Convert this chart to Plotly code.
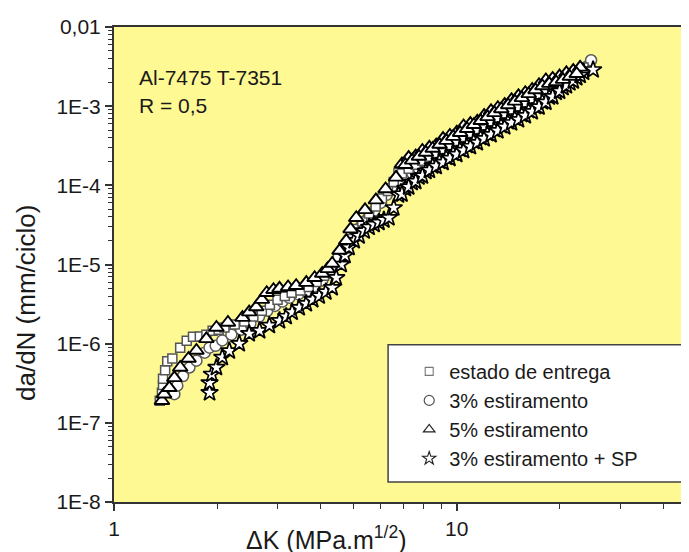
import plotly.graph_objects as go

# ---------------- data ----------------
# estado de entrega (squares)
sq_K = [1.36, 1.38, 1.39, 1.39, 1.41, 1.43, 1.48, 1.56, 1.63, 1.70, 1.78, 1.86, 1.94, 2.02, 2.10,
        2.25, 2.40, 2.55, 2.70, 2.85, 3.00, 3.15, 3.30, 3.50, 3.70, 3.90, 4.10, 4.30, 4.50, 4.70,
        4.90, 5.10, 5.30, 5.55, 5.80, 6.05, 6.30, 6.55,
        6.76, 7.08, 7.41, 7.76, 8.13, 8.51, 8.91, 9.33, 9.77, 10.23, 10.72, 11.22, 11.75, 12.30,
        12.88, 13.49, 14.13, 14.79, 15.49, 16.22, 16.98, 17.78, 18.62, 19.50, 20.42, 21.38, 22.39, 23.44,
        6.92, 7.24, 7.59, 7.94, 8.32, 8.71, 9.12, 9.55, 10.0, 10.47, 10.96, 11.48, 12.02, 12.59,
        13.18, 13.80, 14.45, 15.14, 15.85, 16.60, 17.38, 18.20, 19.05, 19.95, 20.89, 21.88, 22.91]
sq_da = [1.9e-7, 2.4e-7, 3.0e-7, 3.6e-7, 4.6e-7, 6.0e-7, 6.5e-7, 8.9e-7, 1.09e-6, 1.22e-6, 1.23e-6,
         1.3e-6, 1.46e-6, 1.5e-6, 1.6e-6, 1.75e-6, 1.9e-6, 2.2e-6, 2.6e-6, 3.1e-6, 3.6e-6, 4.0e-6,
         4.4e-6, 4.7e-6, 5.2e-6, 6.0e-6, 7.2e-6, 9.0e-6, 1.2e-5, 1.6e-5, 2.1e-5, 2.8e-5, 3.5e-5,
         4.4e-5, 5.4e-5, 6.8e-5, 8.5e-5, 1.1e-4,
         1.445e-4, 1.698e-4, 1.862e-4, 2.018e-4, 2.399e-4, 2.754e-4, 2.951e-4, 3.273e-4, 3.715e-4,
         4.365e-4, 4.677e-4, 5.188e-4, 5.888e-4, 6.761e-4, 7.413e-4, 8.318e-4, 9.550e-4, 1.023e-3,
         1.175e-3, 1.288e-3, 1.479e-3, 1.622e-3, 1.778e-3, 1.995e-3, 2.138e-3, 2.344e-3, 2.692e-3,
         3.090e-3,
         1.413e-4, 1.622e-4, 1.820e-4, 2.042e-4, 2.291e-4, 2.570e-4, 2.884e-4, 3.236e-4, 3.631e-4,
         4.074e-4, 4.571e-4, 5.129e-4, 5.754e-4, 6.457e-4, 7.244e-4, 8.128e-4, 9.120e-4, 1.000e-3,
         1.122e-3, 1.259e-3, 1.413e-3, 1.585e-3, 1.778e-3, 1.950e-3, 2.138e-3, 2.399e-3, 2.754e-3]

# 3% estiramento (circles)
ci_K = [1.50, 1.53, 1.59, 1.66, 1.74, 1.84, 1.90, 1.98, 2.07, 2.20, 2.35, 2.50, 2.65, 2.80, 2.95,
        3.10, 3.25, 3.45, 3.65, 3.85, 4.05, 4.25, 4.45, 4.65, 4.85, 5.05, 5.25, 5.50, 5.75, 6.00,
        6.25, 6.45,
        6.61, 6.92, 7.24, 7.59, 7.94, 8.32, 8.71, 9.12, 9.55, 10.0, 10.47, 10.96, 11.48, 12.02,
        12.59, 13.18, 13.80, 14.45, 15.14, 15.85, 16.60, 17.38, 18.20, 19.05, 19.95, 20.89, 21.88,
        22.91, 23.99, 24.66,
        6.76, 7.08, 7.41, 7.76, 8.13, 8.51, 8.91, 9.33, 9.77, 10.23, 10.72, 11.22, 11.75, 12.30,
        12.88, 13.49, 14.13, 14.79, 15.49, 16.22, 16.98, 17.78, 18.62, 19.50, 20.42, 21.38, 22.39]
ci_da = [2.3e-7, 2.95e-7, 3.9e-7, 5.0e-7, 6.1e-7, 7.7e-7, 8.9e-7, 9.4e-7, 1.1e-6, 1.3e-6, 1.5e-6,
         1.8e-6, 2.2e-6, 2.6e-6, 3.0e-6, 3.4e-6, 3.8e-6, 4.2e-6, 4.6e-6, 5.3e-6, 6.3e-6, 7.8e-6,
         1.0e-5, 1.35e-5, 1.8e-5, 2.4e-5, 3.0e-5, 3.8e-5, 4.8e-5, 6.0e-5, 7.6e-5, 9.3e-5,
         1.122e-4, 1.318e-4, 1.479e-4, 1.622e-4, 1.862e-4, 2.138e-4, 2.344e-4, 2.630e-4, 2.884e-4,
         3.311e-4, 3.715e-4, 4.266e-4, 4.677e-4, 5.248e-4, 5.888e-4, 6.457e-4, 7.413e-4, 8.318e-4,
         9.120e-4, 1.023e-3, 1.148e-3, 1.288e-3, 1.445e-3, 1.622e-3, 1.820e-3, 2.042e-3, 2.291e-3,
         2.630e-3, 3.162e-3, 3.8e-3,
         1.096e-4, 1.259e-4, 1.429e-4, 1.603e-4, 1.799e-4, 2.018e-4, 2.265e-4, 2.541e-4, 2.851e-4,
         3.199e-4, 3.589e-4, 4.027e-4, 4.519e-4, 5.070e-4, 5.689e-4, 6.383e-4, 7.161e-4, 7.943e-4,
         8.810e-4, 9.886e-4, 1.109e-3, 1.245e-3, 1.429e-3, 1.641e-3, 1.884e-3, 2.163e-3, 2.455e-3]

# 5% estiramento (triangles)
tr_K = [1.38, 1.40, 1.45, 1.50, 1.56, 1.65, 1.74, 1.86, 1.99, 2.15, 2.37, 2.48, 2.60, 2.70, 2.79,
        2.92, 3.04, 3.22, 3.40, 3.64, 3.85, 4.05, 4.20, 4.33, 4.55, 4.76, 4.90, 5.09, 5.40, 5.81,
        6.20, 6.65,
        6.92, 7.24, 7.59, 7.94, 8.32, 8.71, 9.12, 9.55, 10.0, 10.47, 10.96, 11.48, 12.02, 12.59,
        13.18, 13.80, 14.45, 15.14, 15.85, 16.60, 17.38, 18.20, 19.05, 19.95, 20.89, 21.88, 22.91,
        7.08, 7.41, 7.76, 8.13, 8.51, 8.91, 9.33, 9.77, 10.23, 10.72, 11.22, 11.75, 12.30, 12.88,
        13.49, 14.13, 14.79, 15.49, 16.22, 16.98, 17.78, 18.62, 19.50, 20.42, 21.38, 22.39]
tr_da = [1.9e-7, 2.3e-7, 2.77e-7, 3.7e-7, 5.0e-7, 6.5e-7, 8.2e-7, 1.15e-6, 1.6e-6, 1.85e-6, 2.13e-6,
         2.5e-6, 2.9e-6, 3.6e-6, 4.4e-6, 4.8e-6, 5.0e-6, 5.2e-6, 5.4e-6, 5.9e-6, 6.8e-6, 7.7e-6,
         8.8e-6, 1.03e-5, 1.5e-5, 2.0e-5, 2.8e-5, 3.9e-5, 4.9e-5, 6.5e-5, 9.0e-5, 1.26e-4,
         1.862e-4, 2.239e-4, 2.344e-4, 2.754e-4, 3.020e-4, 3.236e-4, 3.890e-4, 4.266e-4, 4.677e-4,
         5.623e-4, 6.026e-4, 6.457e-4, 7.586e-4, 8.710e-4, 9.550e-4, 1.047e-3, 1.202e-3, 1.349e-3,
         1.479e-3, 1.622e-3, 1.862e-3, 2.138e-3, 2.239e-3, 2.399e-3, 2.630e-3, 2.818e-3, 3.090e-3,
         1.820e-4, 2.065e-4, 2.317e-4, 2.600e-4, 2.917e-4, 3.273e-4, 3.673e-4, 4.121e-4, 4.624e-4,
         5.188e-4, 5.821e-4, 6.531e-4, 7.328e-4, 8.222e-4, 9.226e-4, 1.035e-3, 1.148e-3, 1.274e-3,
         1.429e-3, 1.603e-3, 1.799e-3, 1.928e-3, 2.018e-3, 2.163e-3, 2.371e-3, 2.570e-3]

# 3% estiramento + SP (stars)
st_K = [1.90, 1.90, 1.93, 1.99, 2.07, 2.17, 2.32, 2.48, 2.66, 2.84, 3.04, 3.18, 3.31, 3.47, 3.64,
        3.80, 3.97, 4.15, 4.33, 4.45, 4.60, 4.72, 4.85, 5.02, 5.19, 5.37, 5.55, 5.74, 5.93, 6.13,
        6.34, 6.55,
        6.76, 7.08, 7.41, 7.76, 8.13, 8.51, 8.91, 9.33, 9.77, 10.23, 10.72, 11.22, 11.75, 12.30,
        12.88, 13.49, 14.13, 14.79, 15.49, 16.22, 16.98, 17.78, 18.62, 19.50, 20.42, 21.38, 22.39,
        23.44, 25.0,
        6.92, 7.24, 7.59, 7.94, 8.32, 8.71, 9.12, 9.55, 10.0, 10.47, 10.96, 11.48, 12.02, 12.59,
        13.18, 13.80, 14.45, 15.14, 15.85, 16.60, 17.38, 18.20, 19.05, 19.95, 20.89, 21.88, 22.91]
st_da = [2.4e-7, 3.2e-7, 4.1e-7, 5.0e-7, 6.7e-7, 8.1e-7, 1.0e-6, 1.34e-6, 1.46e-6, 1.7e-6, 1.95e-6,
         2.2e-6, 2.5e-6, 2.85e-6, 3.2e-6, 3.6e-6, 4.0e-6, 4.5e-6, 5.1e-6, 6.8e-6, 1.0e-5, 1.3e-5,
         1.64e-5, 2.0e-5, 2.3e-5, 2.65e-5, 2.95e-5, 3.2e-5, 3.4e-5, 3.65e-5, 3.9e-5, 5.2e-5,
         7.586e-5, 9.120e-5, 1.084e-4, 1.274e-4, 1.496e-4, 1.758e-4, 2.018e-4, 2.265e-4, 2.541e-4,
         2.851e-4, 3.199e-4, 3.589e-4, 4.027e-4, 4.519e-4, 5.070e-4, 5.689e-4, 6.383e-4, 7.079e-4,
         7.852e-4, 8.810e-4, 9.886e-4, 1.135e-3, 1.303e-3, 1.496e-3, 1.718e-3, 1.972e-3, 2.291e-3,
         2.692e-3, 2.88e-3,
         7.762e-5, 9.550e-5, 1.122e-4, 1.318e-4, 1.549e-4, 1.738e-4, 1.950e-4, 2.188e-4, 2.455e-4,
         2.754e-4, 3.090e-4, 3.467e-4, 3.890e-4, 4.365e-4, 4.898e-4, 5.495e-4, 6.166e-4, 6.761e-4,
         7.586e-4, 8.511e-4, 9.772e-4, 1.122e-3, 1.318e-3, 1.549e-3, 1.820e-3, 2.089e-3, 2.455e-3]

series_names = ["estado de entrega", "3% estiramento", "5% estiramento", "3% estiramento + SP"]

y_tickvals = [1e-8, 1e-7, 1e-6, 1e-5, 1e-4, 1e-3, 1e-2]
y_ticktext = ["1E-8", "1E-7", "1E-6", "1E-5", "1E-4", "1E-3", "0,01"]
x_tickvals = [1, 10]
x_ticktext = ["1", "10"]
x_minor = [2, 3, 4, 5, 6, 7, 8, 9, 20, 30, 40]
y_minor = [m * 10.0 ** e for e in range(-8, -2) for m in range(2, 10)]

FONT = "Liberation Sans, Arial, sans-serif"
INK = "#1a1a1a"

# (plot marker, legend marker) styles per series
styles = {
    "estado de entrega": (dict(symbol="square", size=9, color="white", line=dict(color="#555555", width=1.5)),
                          dict(symbol="square", size=8, color="white", line=dict(color="#777777", width=1.1))),
    "3% estiramento": (dict(symbol="circle", size=11, color="white", line=dict(color="#5a5a5a", width=1.5)),
                       dict(symbol="circle", size=10, color="white", line=dict(color="#555555", width=1.2))),
    "5% estiramento": (dict(symbol="triangle-up", size=13, color="white", line=dict(color="#000000", width=1.9)),
                       dict(symbol="triangle-up", size=10, color="white", line=dict(color="#222222", width=1.2))),
    "3% estiramento + SP": (dict(symbol="star", size=13, color="white", line=dict(color="#000000", width=1.7)),
                            dict(symbol="star", size=10, color="white", line=dict(color="#222222", width=1.1))),
}
series_data = {
    "estado de entrega": (sq_K, sq_da),
    "3% estiramento": (ci_K, ci_da),
    "5% estiramento": (tr_K, tr_da),
    "3% estiramento + SP": (st_K, st_da),
}
draw_order = ["3% estiramento", "estado de entrega", "3% estiramento + SP", "5% estiramento"]

fig = go.Figure()
for name in draw_order:
    kx, dy = series_data[name]
    fig.add_trace(go.Scatter(x=kx, y=dy, mode="markers", name=name, legendgroup=name,
                             showlegend=False, marker=styles[name][0]))
for rank, name in enumerate(series_names):
    fig.add_trace(go.Scatter(x=[None], y=[None], mode="markers", name=name, legendgroup=name,
                             legendrank=rank + 1, showlegend=True, marker=styles[name][1]))

# legend frame
fig.add_shape(type="rect", xref="paper", yref="paper", x0=0.480, x1=0.995, y0=0.042, y1=0.331,
              fillcolor="white", line=dict(color="#444444", width=1.5), layer="below")

fig.add_annotation(text="Al-7475 T-7351", xref="paper", yref="paper", x=0.040, y=0.894,
                   xanchor="left", yanchor="middle", showarrow=False,
                   font=dict(family=FONT, size=21, color=INK))
fig.add_annotation(text="R = 0,5", xref="paper", yref="paper", x=0.040, y=0.835,
                   xanchor="left", yanchor="middle", showarrow=False,
                   font=dict(family=FONT, size=21, color=INK))
fig.add_annotation(text="da/dN (mm/ciclo)", xref="paper", yref="paper", x=-0.155, y=0.42,
                   xanchor="center", yanchor="middle", showarrow=False, textangle=-90,
                   font=dict(family=FONT, size=26, color=INK))
fig.add_annotation(text="ΔK (MPa.m<sup>1/2</sup>)", xref="paper", yref="paper", x=0.372, y=-0.076,
                   xanchor="center", yanchor="middle", showarrow=False,
                   font=dict(family=FONT, size=25, color=INK))

axis_common = dict(type="log", showgrid=False, zeroline=False, showline=True, linecolor="#333333",
                   linewidth=2, mirror=True, ticks="outside", ticklen=7, tickwidth=1.5,
                   tickcolor="#333333", tickfont=dict(family=FONT, size=21, color=INK))

fig.update_xaxes(range=[0, 1.666], tickmode="array", tickvals=x_tickvals, ticktext=x_ticktext,
                 minor=dict(tickmode="array", tickvals=x_minor, ticks="outside", ticklen=5,
                            tickwidth=1.2, tickcolor="#333333", showgrid=False),
                 ticklabelstandoff=0, **axis_common)
fig.update_yaxes(range=[-8, -2], tickmode="array", tickvals=y_tickvals, ticktext=y_ticktext,
                 minor=dict(tickmode="array", tickvals=y_minor, ticks="outside", ticklen=4,
                            tickwidth=1.2, tickcolor="#333333", showgrid=False),
                 **axis_common)

# the page adds an 8px body margin, so the figure is sized to fit inside it
fig.update_layout(
    width=681, height=544,
    margin=dict(l=106, r=2, t=19, b=50),
    paper_bgcolor="white", plot_bgcolor="#FEF992",
    showlegend=True,
    legend=dict(x=0.517, y=0.316, xanchor="left", yanchor="top", bgcolor="rgba(0,0,0,0)",
                borderwidth=0, tracegroupgap=0, itemsizing="trace",
                font=dict(family=FONT, size=20, color=INK)),
    font=dict(family=FONT, color=INK),
)

fig.write_html("out.html")
